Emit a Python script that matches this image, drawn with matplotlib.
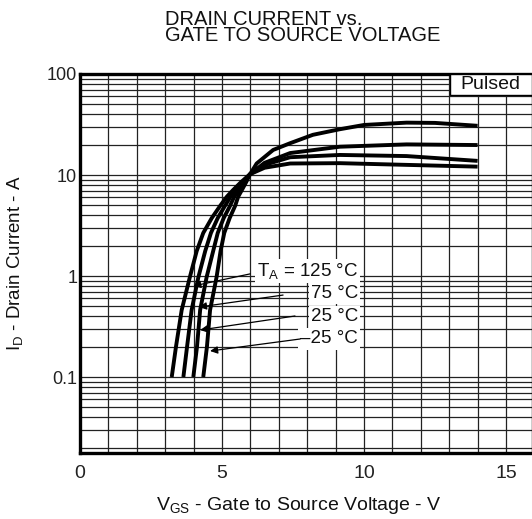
import matplotlib
matplotlib.use("Agg")
import matplotlib.pyplot as plt
from matplotlib.patches import Rectangle
from matplotlib.ticker import LogLocator, FixedLocator, NullFormatter, FixedFormatter

plt.rcParams['font.family'] = ['Liberation Sans', 'DejaVu Sans']
plt.rcParams['mathtext.fontset'] = 'custom'
plt.rcParams['mathtext.rm'] = 'Liberation Sans'
plt.rcParams['mathtext.it'] = 'Liberation Sans'
plt.rcParams['mathtext.default'] = 'regular'

# ---- data ----
v_125 = [3.23, 3.38, 3.58, 3.87, 4.11, 4.34, 4.64, 4.93, 5.17, 5.39, 5.67, 5.99, 6.5, 7.4, 9.15, 11.5, 14.0]
i_125 = [0.1, 0.2, 0.46, 0.98, 1.77, 2.67, 3.75, 4.93, 6.1, 7.1, 8.5, 10.2, 11.8, 13.0, 13.1, 12.6, 12.1]

v_75 = [3.64, 3.77, 3.93, 4.17, 4.41, 4.61, 4.85, 5.10, 5.30, 5.49, 5.72, 5.99, 6.5, 7.4, 9.15, 11.5, 14.0]
i_75 = [0.1, 0.2, 0.46, 0.98, 1.77, 2.67, 3.75, 4.93, 6.1, 7.1, 8.5, 10.2, 12.6, 15.0, 15.8, 15.4, 13.8]

v_25 = [3.99, 4.12, 4.23, 4.46, 4.69, 4.85, 5.06, 5.28, 5.43, 5.60, 5.77, 5.99, 6.5, 7.4, 9.15, 11.5, 14.0]
i_25 = [0.1, 0.2, 0.46, 0.98, 1.77, 2.67, 3.75, 4.93, 6.1, 7.1, 8.5, 10.2, 13.2, 16.5, 19.06, 20.1, 19.8]

v_m25 = [4.34, 4.47, 4.58, 4.81, 4.95, 5.08, 5.27, 5.46, 5.57, 5.70, 5.85, 5.99, 6.22, 6.8, 7.39, 8.2, 9.15, 10.0, 11.5, 12.5, 14.0]
i_m25 = [0.1, 0.2, 0.46, 0.98, 1.77, 2.67, 3.75, 4.93, 6.1, 7.1, 8.5, 10.2, 13.0, 17.7, 20.6, 25.0, 28.4, 31.3, 33.0, 32.8, 30.7]

x_ticks = [0, 5, 10, 15]
x_tick_labels = ["0", "5", "10", "15"]
y_ticks = [0.1, 1, 10, 100]
y_tick_labels = ["0.1", "1", "10", "100"]

labels = [r"T$_{A}$ = 125 °C", "75 °C", "25 °C", "\u201325 °C"]
label_pos = [(9.79, 1.12), (9.79, 0.679), (9.79, 0.393), (9.79, 0.238)]
arrow_tail = [(5.99, 1.05), (7.15, 0.648), (7.57, 0.402), (7.75, 0.238)]
arrow_tip = [(3.99, 0.797), (4.19, 0.493), (4.23, 0.292), (4.58, 0.181)]

# ---- figure ----
fig = plt.figure(figsize=(5.32, 5.19), dpi=100)
ax = fig.add_axes([80 / 532, 1 - 453 / 519, 452 / 532, (453 - 74) / 519])
ax.set_yscale('log')
ax.set_xlim(0, 452 / 28.4)
ax.set_ylim(0.0177, 100)

# grid
ax.xaxis.set_minor_locator(FixedLocator(list(range(0, 16))))
ax.yaxis.set_minor_locator(LogLocator(base=10, subs=[1, 2, 3, 4, 5, 6, 7, 8, 9], numticks=20))
ax.yaxis.set_minor_formatter(NullFormatter())
ax.grid(True, which='both', color='#222222', linewidth=0.9)
ax.set_axisbelow(True)

ax.set_xticks(x_ticks)
ax.xaxis.set_major_formatter(FixedFormatter(x_tick_labels))
ax.set_yticks(y_ticks)
ax.yaxis.set_major_formatter(FixedFormatter(y_tick_labels))
ax.tick_params(which='both', length=0)
ax.tick_params(axis='x', pad=9, labelsize=14, colors='#222222')
ax.tick_params(axis='y', pad=2, labelsize=13, colors='#222222')

for s in ['left', 'bottom', 'top']:
    ax.spines[s].set_linewidth(2.4)
    ax.spines[s].set_color('black')
ax.spines['right'].set_linewidth(1.0)

for v, i in [(v_125, i_125), (v_75, i_75), (v_25, i_25), (v_m25, i_m25)]:
    ax.plot(v, i, color='black', linewidth=2.8, solid_capstyle='butt',
            solid_joinstyle='round', zorder=3)

for txt, pos in zip(labels, label_pos):
    ax.text(pos[0], pos[1], txt, ha='right', va='center', fontsize=13.5, color='#111111',
            bbox=dict(facecolor='white', edgecolor='none', pad=1.5), zorder=4)

for tail, tip in zip(arrow_tail, arrow_tip):
    ax.annotate("", xy=tip, xytext=tail,
                arrowprops=dict(arrowstyle='-|>', color='black', lw=0.9,
                                mutation_scale=11, shrinkA=0, shrinkB=0), zorder=5)

# "Pulsed" box
ax.add_patch(Rectangle((370 / 452, 1 - 21 / 379), 82 / 452, 21 / 379, transform=ax.transAxes,
                       facecolor='white', edgecolor='black', linewidth=1.0, zorder=6))
ax.text(410 / 452, 1 - 10.5 / 379, "Pulsed", transform=ax.transAxes, ha='center', va='center',
        fontsize=14, color='#111111', zorder=7)

ax.set_xlabel(r"V$_{GS}$ - Gate to Source Voltage - V", fontsize=14, color='#111111')
ax.xaxis.set_label_coords((299 - 80) / 452, (453 - 505) / 379)
ax.xaxis.label.set_va('center')
ax.set_ylabel(r"I$_{D}$ - Drain Current - A", fontsize=13.5, labelpad=16, color='#111111')

fig.text(165 / 532, 1 - 10 / 519, "DRAIN CURRENT vs.\nGATE TO SOURCE VOLTAGE", ha='left', va='top',
         fontsize=14.5, linespacing=0.78, color='#111111')

fig.savefig("out.png", dpi=100)
